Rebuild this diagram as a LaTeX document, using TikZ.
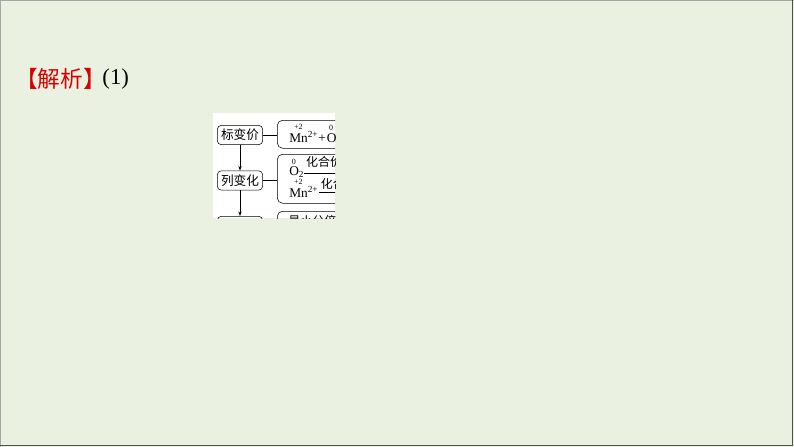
\documentclass[tikz,border=0pt]{standalone}
\usepackage{amsmath}
\usepackage{fontspec}
\setmainfont{Liberation Serif}
\newfontfamily\cjk{Noto Sans CJK SC}
\usetikzlibrary{arrows.meta}
\usetikzlibrary{positioning}

\definecolor{slidebg}{HTML}{EBF1E1}
\definecolor{tagred}{HTML}{D80000}
\definecolor{frameline}{HTML}{505050}

\tikzset{
	stepbox/.style={draw, rounded corners=3pt, minimum width=34pt, minimum height=14.5pt, inner sep=1pt, font=\cjk\fontsize{9.5}{9.5}\selectfont},
	bracebox/.style={draw, rounded corners=4pt, anchor=north west, minimum width=70pt},
	formula/.style={inner sep=0pt, anchor=base west, font=\fontsize{10}{10}\selectfont},
	valence/.style={inner sep=0pt, anchor=south, font=\fontsize{6}{6}\selectfont},
	overlabel/.style={inner sep=0pt, anchor=base west, font=\cjk\fontsize{9}{9}\selectfont},
}

\begin{document}
\begin{tikzpicture}[x=0.75pt, y=-0.75pt]
	\useasboundingbox (0,0) rectangle (794,447);
	\fill[slidebg] (0,0) rectangle (794,447);
	\draw[gray!70, line width=0.75pt] (0.5,447) -- (0.5,0.5) -- (794,0.5);
	\draw[frameline, line width=1.2pt] (792.6,0) -- (792.6,445.3) -- (0,445.3);
	
	\node[anchor=west, text=tagred, inner sep=0pt, font=\cjk\fontsize{17}{17}\selectfont] (tag) at (15,79) {【解析】};
	\node[right=-3pt of tag, inner sep=0pt, font=\fontsize{17}{17}\selectfont] (part) {(1)};
	
	\begin{scope}
	\clip (213,113) rectangle (335,218);
	\fill[white] (213,113) rectangle (335,218);
	
	\node[stepbox] (mark) at (240,135) {标变价};
	\node[stepbox] (change) at (240,180.5) {列变化};
	\node[stepbox] (third) at (240,226) {\phantom{列变化}};
	
	\node[bracebox, minimum height=21pt] (b1) at (277,120) {};
	\node[bracebox, minimum height=36.75pt] (b2) at (277,154) {};
	\node[bracebox, minimum height=30pt] (b3) at (277,211) {};
	
	\draw (mark.east) -- (mark.east -| b1.west);
	\draw (change.east) -- (change.east -| b2.west);
	\draw[-{Stealth[length=3.5pt, width=2.5pt]}] (mark) -- (change);
	\draw[-{Stealth[length=3.5pt, width=2.5pt]}] (change) -- (third);
	
	% first line: Mn2+ + O
	\node[formula] (mn1) at (289,142.5) {Mn\textsuperscript{2+}+};
	\node[formula] (ox1) at ([xshift=0.4pt]mn1.base east) {O};
	\node[valence] (mn1v) at ([xshift=7pt, yshift=0.8pt]mn1.north west) {+2};
	\node[valence] (ox1v) at ([xshift=-0.5pt, yshift=1.8pt]ox1.north) {0};
	
	% second block
	\node[formula] (o2) at (289,175) {O\textsubscript{2}};
	\node[valence] (o2v) at ([xshift=3.6pt, yshift=0.8pt]o2.north west) {0};
	\node[overlabel] (gain) at ([xshift=1pt]o2.east |- 0,166) {化合价};
	\draw (o2.east |- 0,173) -- ++(45,0);
	\node[formula] (mn2) at (289,197) {Mn\textsuperscript{2+}};
	\node[valence] (mn2v) at ([xshift=7pt, yshift=0.8pt]mn2.north west) {+2};
	\node[overlabel] (lose) at ([xshift=1.5pt]mn2.east |- 0,188.5) {化合价};
	\draw (mn2.east |- 0,192) -- ++(35,0);
	\node[overlabel, anchor=north west] (lcm) at (288,215.5) {最小公倍数};
	\end{scope}
\end{tikzpicture}
\end{document}
